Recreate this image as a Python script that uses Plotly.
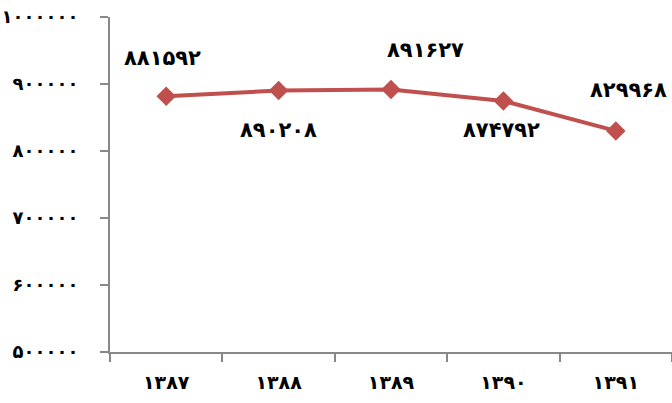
import plotly.graph_objects as go

years = ["1387", "1388", "1389", "1390", "1391"]
values = [881592, 890208, 891627, 874792, 829968]
y_ticks = [500000, 600000, 700000, 800000, 900000, 1000000]

FA = str.maketrans("0123456789", "۰۱۲۳۴۵۶۷۸۹")
def fa(v):
    return str(v).translate(FA)

cats = [fa(y) for y in years]

# label offsets (px) relative to each point
label_dx = [-4, 0, 34, -2, 13]
label_dy = [38, -39, 40, -29, 41]

FONT = "DejaVu Sans"

fig = go.Figure()
fig.add_trace(go.Scatter(
    x=cats, y=values, mode="lines+markers",
    line=dict(color="#C0504D", width=4),
    marker=dict(symbol="diamond", size=15, color="#C0504D"),
    hoverinfo="skip", showlegend=False, cliponaxis=False,
))

for c, v, dx, dy in zip(cats, values, label_dx, label_dy):
    fig.add_annotation(x=c, y=v, text="<b>" + fa(v) + "</b>", showarrow=False,
                       xshift=dx, yshift=dy,
                       font=dict(family=FONT, size=21, color="black"))

fig.update_layout(
    width=672, height=403,
    margin=dict(l=110, r=0, t=17, b=51, autoexpand=False),
    paper_bgcolor="white", plot_bgcolor="white",
    font=dict(family=FONT, color="black"),
)
fig.update_xaxes(
    type="category", range=[-0.5, 4.5], tickson="boundaries",
    showline=True, linecolor="#888888", linewidth=2,
    ticks="outside", ticklen=8, tickcolor="#888888", tickwidth=2,
    showgrid=False, tickfont=dict(family=FONT, size=19, color="black"),
    ticklabelstandoff=12, automargin=False, ticklabeloverflow="allow",
    tickvals=cats, ticktext=["<b>" + c + "</b>" for c in cats],
)
fig.update_yaxes(
    range=[500000, 1000000],
    tickvals=y_ticks, ticktext=["<b>" + fa(t) + "</b>" for t in y_ticks],
    showline=True, linecolor="#888888", linewidth=2,
    ticks="outside", ticklen=8, tickcolor="#888888", tickwidth=2,
    showgrid=False, zeroline=False, automargin=False,
    tickfont=dict(family=FONT, size=18, color="black"),
    ticklabelstandoff=18, ticklabeloverflow="allow",
)

fig.write_html("out.html", config={"displayModeBar": False},
               post_script="document.body.style.margin='0';document.body.style.overflow='hidden';")
